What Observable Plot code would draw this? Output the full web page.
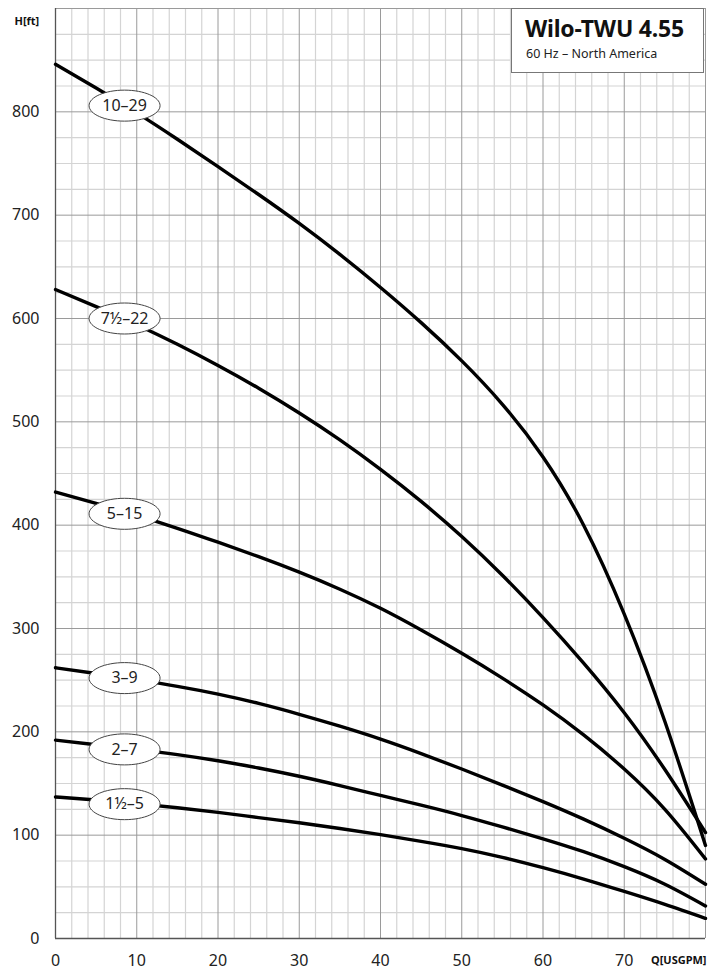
<!DOCTYPE html>
<html>
<head>
<meta charset="utf-8">
<script src="https://cdn.jsdelivr.net/npm/d3@7"></script>
<script src="https://cdn.jsdelivr.net/npm/@observablehq/plot@0.6"></script>
<style>
  html, body { margin: 0; padding: 0; background: #fff; }
  #wrap { position: relative; width: 720px; height: 980px; font-family: "Noto Sans", sans-serif; }
  #titlebox { position: absolute; left: 511px; top: 8px; width: 193px; height: 65px; background: #fff; border: 1px solid #777; box-sizing: border-box; }
  #titlebox .t { position: absolute; left: 13px; top: 8px; font-size: 23px; font-weight: bold; color: #111; line-height: 1; letter-spacing: -0.2px; }
  #titlebox .s { position: absolute; left: 14px; top: 39px; font-size: 12.5px; color: #222; line-height: 1; }
</style>
</head>
<body>
<div id="wrap">
  <div id="chart"></div>
  <div id="titlebox"><div class="t">Wilo-TWU 4.55</div><div class="s">60 Hz – North America</div></div>
</div>
<script>
// Flow (USGPM)
const flow = [0, 5, 10, 15, 20, 25, 30, 35, 40, 45, 50, 55, 60, 65, 70, 75, 80];
// Head (ft) per pump model
const head_10_29 = [846, 823, 799, 773.5, 747, 720, 692, 662, 630, 596, 559, 517, 466, 400, 314, 210, 90];
const head_7h_22 = [628, 611.5, 594, 575, 554.5, 532.5, 508.5, 482.5, 454, 423, 389, 351.5, 310.5, 266.5, 218.5, 163.5, 102.5];
const head_5_15  = [432, 421, 409.5, 397, 383.5, 369.5, 354.5, 338, 319.5, 298.5, 276, 252, 226, 197, 164, 125, 77];
const head_3_9   = [262, 256.5, 250.5, 244, 236.5, 227.5, 217, 205.5, 193, 179, 164, 148.5, 132.5, 115.5, 97, 76.5, 52.5];
const head_2_7   = [192, 187.5, 183, 178, 172, 165, 157, 148, 138.5, 129, 119, 108, 96.5, 84, 69.5, 52.5, 31.5];
const head_1h_5  = [137, 134, 130.5, 126.5, 122, 117, 112, 106.5, 100.5, 94, 87, 78.5, 68.5, 57.5, 45.5, 33, 19.5];

const models = ["10–29", "7½–22", "5–15", "3–9", "2–7", "1½–5"];
const seriesHeads = [head_10_29, head_7h_22, head_5_15, head_3_9, head_2_7, head_1h_5];
// label placement
const labelFlow = [8.5, 8.5, 8.5, 8.5, 8.5, 8.5];
const labelHead = [806, 600, 411, 252, 183, 130];

// ticks
const xTickLabels = [0, 10, 20, 30, 40, 50, 60, 70];
const yTickLabels = [0, 100, 200, 300, 400, 500, 600, 700, 800];
const xMajor = [10, 20, 30, 40, 50, 60, 70, 80];
const yMajor = [100, 200, 300, 400, 500, 600, 700, 800, 900];
const xMinor = [2, 4, 6, 8, 12, 14, 16, 18, 22, 24, 26, 28, 32, 34, 36, 38, 42, 44, 46, 48, 52, 54, 56, 58, 62, 64, 66, 68, 72, 74, 76, 78];
const yMinor = [25, 50, 75, 125, 150, 175, 225, 250, 275, 325, 350, 375, 425, 450, 475, 525, 550, 575, 625, 650, 675, 725, 750, 775, 825, 850, 875];

const lineData = models.flatMap((m, i) => flow.map((q, j) => ({model: m, q, h: seriesHeads[i][j]})));
const labels = models.map((m, i) => ({model: m, q: labelFlow[i], h: labelHead[i]}));

const ellipse = {
  draw(ctx) {
    const rx = 35.5, ry = 15.5, k = 0.5523;
    ctx.moveTo(rx, 0);
    ctx.bezierCurveTo(rx, ry * k, rx * k, ry, 0, ry);
    ctx.bezierCurveTo(-rx * k, ry, -rx, ry * k, -rx, 0);
    ctx.bezierCurveTo(-rx, -ry * k, -rx * k, -ry, 0, -ry);
    ctx.bezierCurveTo(rx * k, -ry, rx, -ry * k, rx, 0);
    ctx.closePath();
  }
};

const chart = Plot.plot({
  width: 720,
  height: 980,
  marginLeft: 55,
  marginRight: 15,
  marginTop: 8,
  marginBottom: 42,
  style: {fontFamily: "'Noto Sans', sans-serif", background: "#fff", color: "#222"},
  x: {domain: [0, 80]},
  y: {domain: [0, 900]},
  marks: [
    Plot.ruleX(xMinor, {stroke: "#d4d4d4", strokeWidth: 1.2}),
    Plot.ruleY(yMinor, {stroke: "#d4d4d4", strokeWidth: 1.2}),
    Plot.ruleX(xMajor, {stroke: "#9a9a9a", strokeWidth: 1}),
    Plot.ruleY(yMajor, {stroke: "#9a9a9a", strokeWidth: 1}),
    Plot.ruleX([0], {stroke: "#555", strokeWidth: 1.3}),
    Plot.ruleY([0], {stroke: "#555", strokeWidth: 1.3}),
    Plot.axisX(xTickLabels, {tickSize: 0, tickPadding: 16, fontSize: 16, label: null, fill: "#222"}),
    Plot.axisY(yTickLabels, {tickSize: 0, tickPadding: 16, fontSize: 16, label: null, fill: "#222"}),
    Plot.line(lineData, {x: "q", y: "h", z: "model", stroke: "#000", strokeWidth: 3.4, curve: "natural"}),
    Plot.dot(labels, {x: "q", y: "h", symbol: ellipse, r: 10, fill: "#fff", stroke: "#444", strokeWidth: 1}),
    Plot.text(labels, {x: "q", y: "h", text: "model", fontSize: 16, fill: "#222"}),
    Plot.text(["H[ft]"], {frameAnchor: "top-left", dx: -41, dy: 9, textAnchor: "start", fontSize: 11, fontWeight: "bold", fill: "#111"}),
    Plot.text(["Q[USGPM]"], {frameAnchor: "bottom-right", dx: 1, dy: 25, textAnchor: "end", fontSize: 11, fontWeight: "bold", fill: "#111"})
  ]
});
document.getElementById("chart").appendChild(chart);
</script>
</body>
</html>
